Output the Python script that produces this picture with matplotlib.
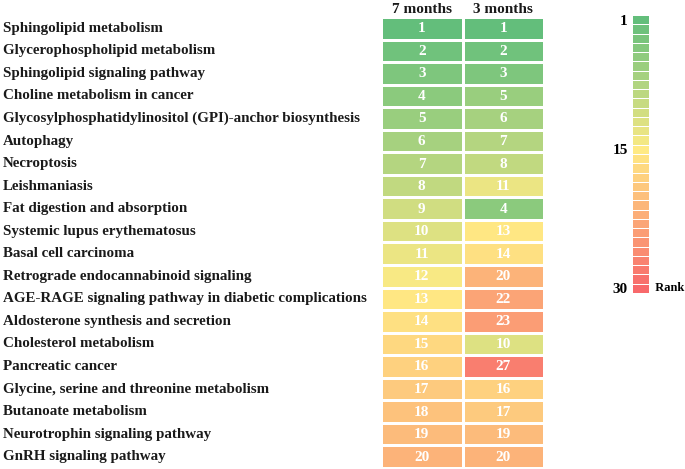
import numpy as np
import matplotlib.pyplot as plt
from matplotlib.colors import LinearSegmentedColormap, TwoSlopeNorm
import matplotlib.transforms as mtransforms

plt.rcParams['font.family'] = ['Liberation Serif', 'DejaVu Serif']
plt.rcParams['font.weight'] = 'bold'

pathways = [
    "Sphingolipid metabolism",
    "Glycerophospholipid metabolism",
    "Sphingolipid signaling pathway",
    "Choline metabolism in cancer",
    "Glycosylphosphatidylinositol (GPI)-anchor biosynthesis",
    "Autophagy",
    "Necroptosis",
    "Leishmaniasis",
    "Fat digestion and absorption",
    "Systemic lupus erythematosus",
    "Basal cell carcinoma",
    "Retrograde endocannabinoid signaling",
    "AGE-RAGE signaling pathway in diabetic complications",
    "Aldosterone synthesis and secretion",
    "Cholesterol metabolism",
    "Pancreatic cancer",
    "Glycine, serine and threonine metabolism",
    "Butanoate metabolism",
    "Neurotrophin signaling pathway",
    "GnRH signaling pathway",
]
columns = ["7 months", "3 months"]
rank_7m = [1, 2, 3, 4, 5, 6, 7, 8, 9, 10, 11, 12, 13, 14, 15, 16, 17, 18, 19, 20]
rank_3m = [1, 2, 3, 5, 6, 7, 8, 11, 4, 13, 14, 20, 22, 23, 10, 27, 16, 17, 19, 20]
max_rank = 30
cbar_ticks = [1, 15, 30]

cmap = LinearSegmentedColormap.from_list("gyr", ["#63BE7B", "#FFEB84", "#F8696B"])

W, H = 685, 469
fig = plt.figure(figsize=(W / 100, H / 100), dpi=100)

# heatmap
ax = fig.add_axes([381 / W, 1 / H, 163 / W, 451 / H])
data = np.array([rank_7m, rank_3m]).T
norm = TwoSlopeNorm(vmin=1, vcenter=12.5, vmax=max_rank)
ax.pcolormesh(data, cmap=cmap, norm=norm, edgecolors="white", linewidth=0.8)
ax.set_xlim(0, 2)
ax.set_ylim(len(pathways), 0)
ax.axis("off")

for i in range(len(pathways)):
    for j in range(2):
        ax.text(j + 0.5, i + 0.52, str(data[i, j]), ha="center", va="center",
                color="white", fontsize=11, fontweight="bold")

for j, name in enumerate(columns):
    ax.text(j + 0.5, -0.05, name, ha="center", va="bottom",
            fontsize=11, fontweight="bold", color="#1a1a1a")

trans = mtransforms.blended_transform_factory(fig.transFigure, ax.transData)
for i, name in enumerate(pathways):
    ax.text(3 / W, i + 0.5, name, transform=trans, ha="left", va="center",
            fontsize=10.8, fontweight="bold", color="#1a1a1a")

# colour scale
cax = fig.add_axes([632 / W, 176 / H, 17 / W, 278 / H])
levels = np.arange(1, max_rank + 1).reshape(-1, 1)
cnorm = TwoSlopeNorm(vmin=1, vcenter=15, vmax=max_rank)
cax.pcolormesh(np.array([0, 1]), np.arange(0.5, max_rank + 1), levels,
               cmap=cmap, norm=cnorm, edgecolors="white", linewidth=0.5)
cax.set_ylim(max_rank + 0.5, 0.5)
cax.set_xlim(0, 1)
for s in cax.spines.values():
    s.set_visible(False)
cax.set_xticks([])
cax.set_yticks(cbar_ticks)
cax.set_yticklabels([str(t) for t in cbar_ticks], fontsize=11, fontweight="bold")
cax.tick_params(axis="y", length=0, pad=3)
cax.text(1.0, max_rank, "  Rank", ha="left", va="center",
         fontsize=9, fontweight="bold", transform=cax.transData)

fig.savefig("out.png", dpi=100)
